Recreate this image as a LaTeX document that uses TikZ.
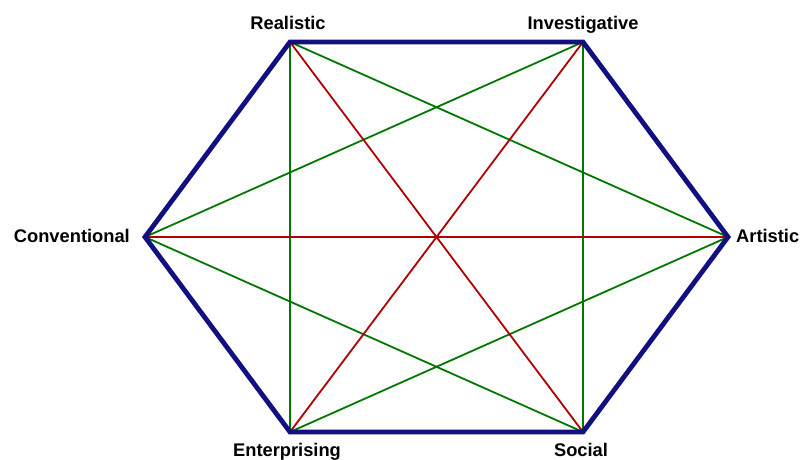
\documentclass[tikz,border=0pt]{standalone}
\usepackage{fontspec}
\setmainfont{Liberation Sans}
\definecolor{hexblue}{RGB}{16,16,128}
\definecolor{dgreen}{RGB}{0,120,0}
\definecolor{dred}{RGB}{176,0,0}
\tikzset{
  edge/.style={hexblue,line width=4.8pt,line join=miter},
  longd/.style={dred,line width=1.8pt},
  shortd/.style={dgreen,line width=1.8pt},
  lbl/.style={font=\fontsize{18.3}{21}\selectfont\bfseries,inner sep=0pt}
}
\begin{document}
\begin{tikzpicture}[x=1pt,y=-1pt]
\useasboundingbox (0,0) rectangle (800,460);
\coordinate (R) at (290,42);
\coordinate (I) at (583,42);
\coordinate (A) at (728,237);
\coordinate (S) at (583,432);
\coordinate (E) at (290,432);
\coordinate (C) at (145,237);
% short diagonals
\draw[shortd] (R) -- (E);
\draw[shortd] (I) -- (S);
\draw[shortd] (R) -- (A);
\draw[shortd] (I) -- (C);
\draw[shortd] (C) -- (S);
\draw[shortd] (E) -- (A);
% long diagonals
\draw[longd] (R) -- (S);
\draw[longd] (I) -- (E);
\draw[longd] (C) -- (A);
% hexagon
\draw[edge] (R) -- (I) -- (A) -- (S) -- (E) -- (C) -- cycle;
% labels
\node[lbl,anchor=base] (lR) at (288,30) {Realistic};
\node[lbl,anchor=base] (lI) at (583,30) {Investigative};
\node[lbl,anchor=base east] (lC) at (130,242) {Conventional};
\node[lbl,anchor=base west] (lA) at (736,242) {Artistic};
\node[lbl,anchor=base] (lE) at (287,456) {Enterprising};
\node[lbl,anchor=base] (lS) at (581,456) {Social};
\end{tikzpicture}
\end{document}
